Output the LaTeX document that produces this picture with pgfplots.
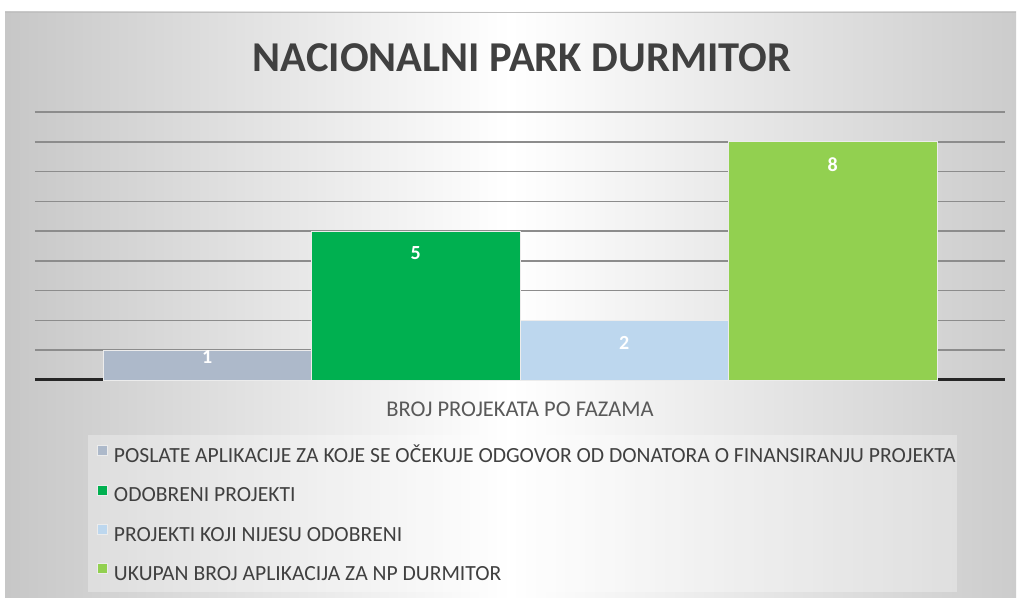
\documentclass[border=0pt]{standalone}
\usepackage{pgfplots}
\pgfplotsset{compat=1.18}
\usepackage{fontspec}
\setmainfont{Carlito}
\definecolor{barA}{HTML}{ADB9CA}
\definecolor{barB}{HTML}{00B050}
\definecolor{barC}{HTML}{BDD7EE}
\definecolor{barD}{HTML}{92D050}
\definecolor{gridc}{HTML}{8C8C8C}
\definecolor{txt}{HTML}{404040}
\begin{document}
\begin{tikzpicture}[x=1pt,y=1pt]
% page and chart background
\fill[white] (0,0) rectangle (1020,601);
\shade[left color=black!22, right color=black!20, middle color=white] (5,3) rectangle (1016,589);
\draw[black!25, line width=0.8pt] (5,589) -- (1016,589);
\fill[white, opacity=0.3] (88,9) rectangle (957,166);
\node[font=\bfseries\fontsize{42.5}{42.5}\selectfont, text=txt] at (522,543) {NACIONALNI PARK DURMITOR};
\node[font=\fontsize{22.5}{22.5}\selectfont, text=black!65] at (520,192) {BROJ PROJEKATA PO FAZAMA};
\begin{axis}[at={(35pt,221pt)}, anchor=south west, scale only axis,
  width=970pt, height=268pt,
  xmin=-1, xmax=1, ymin=0, ymax=9,
  ybar=0pt, bar width=208.5pt,
  axis line style={draw=none}, tick style={draw=none},
  xtick=\empty, ytick={1,...,9}, yticklabels={},
  ymajorgrids, grid style={gridc, line width=1.5pt},
  extra y ticks={0}, extra y tick labels={},
  extra y tick style={grid style={black!85, line width=3pt}},
  clip=false,
  /pgf/number format/assume math mode=true,
  nodes near coords,
  every node near coord/.append style={anchor=north, yshift=-12pt,
    font=\bfseries\fontsize{20}{20}\selectfont, text=white},
  legend image code/.code={\fill[#1] (0pt,2pt) rectangle (10pt,12pt);},
  legend cell align=left,
  legend style={at={(0.0639,-0.2425)}, anchor=north west, draw=none, fill=none,
    inner sep=0pt, column sep=6pt, row sep=18pt,
    nodes={inner sep=0pt, text height=14pt, text depth=4pt, text=txt,
      font=\fontsize{21.6}{21.6}\selectfont}},
]
\addplot[fill=barA, draw=white!85!gray, line width=0.8pt,
  every node near coord/.append style={yshift=15pt}] coordinates {(0,1)};
\addplot[fill=barB, draw=white!85!gray, line width=0.8pt] coordinates {(0,5)};
\addplot[fill=barC, draw=white!85!gray, line width=0.8pt] coordinates {(0,2)};
\addplot[fill=barD, draw=white!85!gray, line width=0.8pt] coordinates {(0,8)};
\legend{POSLATE APLIKACIJE ZA KOJE SE OČEKUJE ODGOVOR OD DONATORA O FINANSIRANJU PROJEKTA,
  ODOBRENI PROJEKTI, PROJEKTI KOJI NIJESU ODOBRENI, UKUPAN BROJ APLIKACIJA ZA NP DURMITOR}
\end{axis}
\end{tikzpicture}
\end{document}
